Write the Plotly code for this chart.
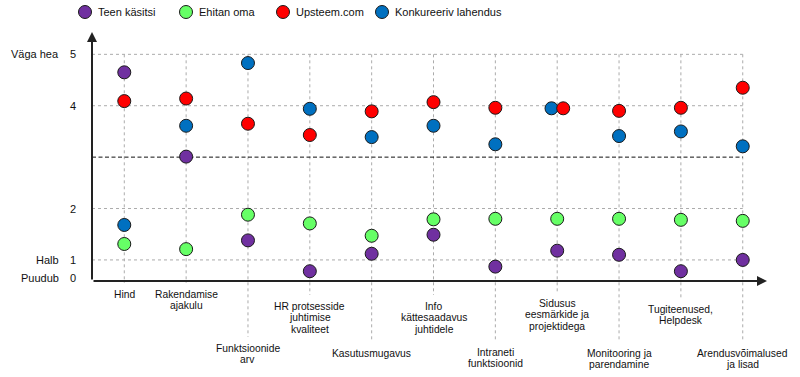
import plotly.graph_objects as go

# ---------------- data ----------------
category_lines = [
    ["Hind"],
    ["Rakendamise", "ajakulu"],
    ["Funktsioonide", "arv"],
    ["HR protsesside", "juhtimise", "kvaliteet"],
    ["Kasutusmugavus"],
    ["Info", "kättesaadavus", "juhtidele"],
    ["Intraneti", "funktsioonid"],
    ["Sidusus", "eesmärkide ja", "projektidega"],
    ["Monitooring ja", "parendamine"],
    ["Tugiteenused,", "Helpdesk"],
    ["Arendusvõimalused", "ja lisad"],
]

series_names = ["Teen käsitsi", "Ehitan oma", "Upsteem.com", "Konkureeriv lahendus"]
teen_kasitsi = [4.65, 3.01, 1.38, 0.78, 1.12, 1.49, 0.87, 1.18, 1.10, 0.78, 1.00]
ehitan_oma = [1.31, 1.21, 1.88, 1.71, 1.47, 1.79, 1.80, 1.80, 1.80, 1.78, 1.76]
upsteem = [4.09, 4.14, 3.65, 3.43, 3.89, 4.07, 3.96, 3.95, 3.90, 3.96, 4.35]
konkureeriv = [1.68, 3.61, 4.83, 3.94, 3.39, 3.61, 3.25, 3.95, 3.41, 3.50, 3.21]
# small side-by-side nudge where two points coincide (Sidusus)
upsteem_nudge = [0, 0, 0, 0, 0, 0, 0, 0.097, 0, 0, 0]
konkureeriv_nudge = [0, 0, 0, 0, 0, 0, 0, -0.092, 0, 0, 0]

ytick_values = [0, 1, 2, 4, 5]
ytick_words = ["Puudub", "Halb", "", "", "Väga hea"]
grid_values = [1, 2, 4, 5]
threshold_value = 3

# ---------------- layout constants ----------------
W, H = 800, 377
ML, MR, MT, MB = 92, 35, 35, 96
PW, PH = W - ML - MR, H - MT - MB
Y_MIN, Y_MAX = 0.59, 5.376
X_MIN, X_MAX = -0.522, 10.36
FONT = "Arial, Liberation Sans, sans-serif"
colors = ["#7030A0", "#66FF66", "#FF0000", "#0070C0"]
OUTLINE = "#1a1a1a"

def px_x(px):  # window px -> paper
    return (px - ML) / PW

def px_y(py):  # window px -> paper
    return (H - MB - py) / PH

def data_to_paper_x(v):
    return (v - X_MIN) / (X_MAX - X_MIN)

n = len(category_lines)
idx = list(range(n))
last = n - 1

fig = go.Figure()

series = [
    (teen_kasitsi, [0] * n),
    (ehitan_oma, [0] * n),
    (konkureeriv, konkureeriv_nudge),
    (upsteem, upsteem_nudge),
]
col_of = [colors[0], colors[1], colors[3], colors[2]]
name_of = [series_names[0], series_names[1], series_names[3], series_names[2]]
for (vals, nud), c, nm in zip(series, col_of, name_of):
    fig.add_trace(go.Scatter(
        x=[i + d for i, d in zip(idx, nud)], y=vals, mode="markers", name=nm,
        marker=dict(size=13, color=c, line=dict(color=OUTLINE, width=1)),
        showlegend=False, cliponaxis=False,
    ))

shapes = []
GRID = dict(color="#ababab", width=1, dash="dot")
for g in grid_values:
    shapes.append(dict(type="line", xref="x", yref="y", x0=X_MIN, x1=last, y0=g, y1=g,
                       line=GRID, layer="below"))
shapes.append(dict(type="line", xref="x", yref="y", x0=X_MIN, x1=last,
                   y0=threshold_value, y1=threshold_value,
                   line=dict(color="#111", width=1, dash="4px,2.5px"), layer="below"))

label_first_px = [294, 294, 348, 306, 353, 306, 352, 303, 353, 309, 353]
LINE_STEP = 11.6

annotations = []
top5_paper = (5 - Y_MIN) / (Y_MAX - Y_MIN)
for i, lines in enumerate(category_lines):
    xp = data_to_paper_x(i)
    end_py = max(label_first_px[i] - 11, 283)
    shapes.append(dict(type="line", xref="paper", yref="paper", x0=xp, x1=xp,
                       y0=top5_paper, y1=px_y(end_py), line=GRID, layer="below"))
    for k, t in enumerate(lines):
        annotations.append(dict(
            x=i, xref="x", y=px_y(label_first_px[i] + k * LINE_STEP), yref="paper",
            text=t, showarrow=False, xanchor="center", yanchor="middle",
            font=dict(family=FONT, size=10.3, color="#111")))

for v, wd in zip(ytick_values, ytick_words):
    yv = max(v, Y_MIN)
    ysh = 3 if v == 0 else 0
    annotations.append(dict(x=0, xref="paper", y=yv, yref="y", text=str(v),
                            showarrow=False, xanchor="right", yanchor="middle",
                            xshift=-14, yshift=ysh,
                            font=dict(family=FONT, size=11, color="#111")))
    if wd:
        annotations.append(dict(x=0, xref="paper", y=yv, yref="y", text=wd,
                                showarrow=False, xanchor="right", yanchor="middle",
                                xshift=-31, yshift=ysh,
                                font=dict(family=FONT, size=11, color="#111")))

# axis arrows
x_axis_px, y_axis_px = 281, 92
annotations.append(dict(x=px_x(767), y=px_y(x_axis_px), xref="paper", yref="paper", text="",
                        showarrow=True, axref="pixel", ayref="pixel", ax=-(767 - y_axis_px), ay=0,
                        arrowhead=2, arrowsize=1, arrowwidth=2, arrowcolor="#222"))
annotations.append(dict(x=px_x(y_axis_px), y=px_y(32), xref="paper", yref="paper", text="",
                        showarrow=True, axref="pixel", ayref="pixel", ax=0, ay=(x_axis_px - 32),
                        arrowhead=2, arrowsize=1, arrowwidth=2, arrowcolor="#222"))

# manual legend
legend_marker_px = [85, 186, 283, 382]
LEG_Y = 12
for nm, c, mx in zip(series_names, colors, legend_marker_px):
    shapes.append(dict(type="circle", xref="paper", yref="paper",
                       xsizemode="pixel", ysizemode="pixel",
                       xanchor=px_x(mx), yanchor=px_y(LEG_Y),
                       x0=-6.5, x1=6.5, y0=-6.5, y1=6.5,
                       fillcolor=c, line=dict(color=OUTLINE, width=1), layer="above"))
    annotations.append(dict(x=px_x(mx + 11), y=px_y(LEG_Y), xref="paper", yref="paper",
                            text=nm, showarrow=False, xanchor="left", yanchor="middle",
                            font=dict(family=FONT, size=11, color="#111")))

fig.update_layout(
    width=W, height=H,
    margin=dict(l=ML, r=MR, t=MT, b=MB, pad=0),
    paper_bgcolor="white", plot_bgcolor="white",
    xaxis=dict(range=[X_MIN, X_MAX], visible=False, fixedrange=True),
    yaxis=dict(range=[Y_MIN, Y_MAX], visible=False, fixedrange=True),
    shapes=shapes, annotations=annotations, showlegend=False,
)

fig.write_html("out.html",
               config={"displayModeBar": False, "staticPlot": True},
               post_script="document.body.style.margin='0px';document.body.style.overflow='hidden';")
